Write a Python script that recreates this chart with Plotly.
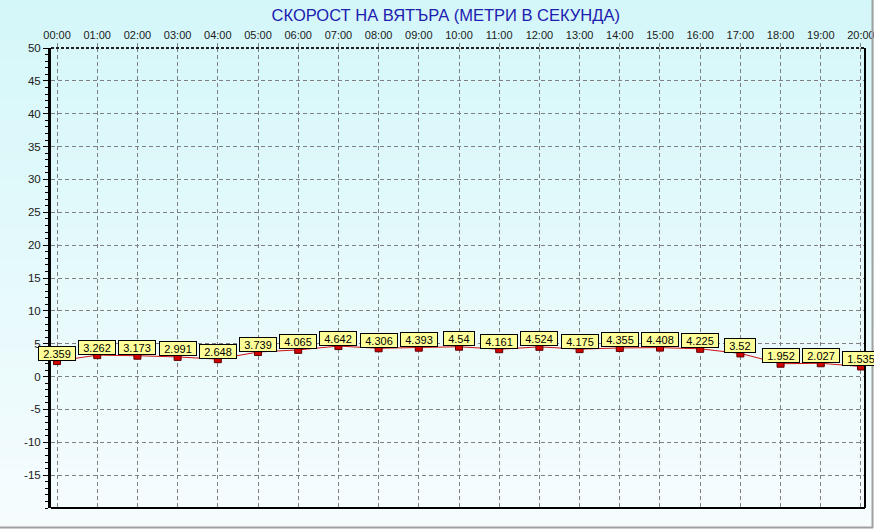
import plotly.graph_objects as go

hours = ["00:00", "01:00", "02:00", "03:00", "04:00", "05:00", "06:00", "07:00",
         "08:00", "09:00", "10:00", "11:00", "12:00", "13:00", "14:00", "15:00",
         "16:00", "17:00", "18:00", "19:00", "20:00"]
wind = [2.359, 3.262, 3.173, 2.991, 2.648, 3.739, 4.065, 4.642, 4.306, 4.393, 4.54,
        4.161, 4.524, 4.175, 4.355, 4.408, 4.225, 3.52, 1.952, 2.027, 1.535]
y_ticks = [-15, -10, -5, 0, 5, 10, 15, 20, 25, 30, 35, 40, 45, 50]
title_text = "СКОРОСТ НА ВЯТЪРА (МЕТРИ В СЕКУНДА)"

W, H = 874, 529
L, R, T, B = 51, 9, 48, 21
PW, PH = W - L - R, H - T - B

fig = go.Figure()
fig.add_trace(go.Scatter(
    x=list(range(len(hours))), y=wind, mode="lines+markers",
    line=dict(color="#d01010", width=1),
    marker=dict(symbol="square", size=7, color="#d00000",
                line=dict(color="#600000", width=1)),
    hoverinfo="skip", showlegend=False, cliponaxis=False,
))

def px_x(p):
    return (p - L) / PW

def px_y(p):
    return (H - B - p) / PH

shapes = []
# background gradient (light cyan at top to near-white at bottom)
c0 = (212, 247, 249)
c1 = (246, 252, 254)
n = 53
for i in range(n):
    t = i / (n - 1)
    col = tuple(int(round(c0[k] + (c1[k] - c0[k]) * t)) for k in range(3))
    p0 = i * H / n
    p1 = (i + 1) * H / n + 0.6
    shapes.append(dict(type="rect", xref="paper", yref="paper",
                       x0=px_x(0), x1=px_x(W), y0=px_y(p1), y1=px_y(p0),
                       line=dict(width=0), fillcolor="rgb(%d,%d,%d)" % col,
                       layer="below"))
# plot frame
shapes.append(dict(type="line", xref="paper", yref="paper", x0=0, x1=1, y0=0, y1=0,
                   line=dict(color="black", width=2), layer="above"))
shapes.append(dict(type="line", xref="paper", yref="paper", x0=1, x1=1, y0=0, y1=1,
                   line=dict(color="black", width=2), layer="above"))
shapes.append(dict(type="line", xref="paper", yref="paper", x0=0, x1=1, y0=1, y1=1,
                   line=dict(color="#202020", width=2, dash="3px,2px"), layer="above"))
# outer window frame
shapes.append(dict(type="line", xref="paper", yref="paper",
                   x0=px_x(0), x1=px_x(873), y0=px_y(527.5), y1=px_y(527.5),
                   line=dict(color="#a0a0a0", width=2), layer="above"))
shapes.append(dict(type="line", xref="paper", yref="paper",
                   x0=px_x(872.5), x1=px_x(872.5), y0=px_y(528), y1=px_y(0),
                   line=dict(color="#a0a0a0", width=2), layer="above"))

annotations = []
for i, v in enumerate(wind):
    txt = str(v)
    annotations.append(dict(
        x=i, y=v, xref="x", yref="y", text=txt, showarrow=False,
        font=dict(family="Arial, Liberation Sans", size=11, color="black"),
        bgcolor="#ffff99", bordercolor="black", borderwidth=1, borderpad=1,
        width=len(txt) * 6.2 + 3, height=11, yshift=8, xanchor="center",
        yanchor="middle",
    ))

fig.update_layout(
    width=W, height=H,
    margin=dict(l=L, r=R, t=T, b=B, pad=0, autoexpand=False),
    paper_bgcolor="#e8f9fa",
    plot_bgcolor="rgba(0,0,0,0)",
    title=dict(text=title_text, x=0.51, xref="container", xanchor="center",
               y=1 - 15 / H, yref="container", yanchor="middle",
               font=dict(family="Arial, Liberation Sans", size=16.5, color="#2020b0")),
    xaxis=dict(
        range=[-0.15, 20.1], side="top", tickmode="array",
        tickvals=list(range(len(hours))), ticktext=hours,
        showgrid=True, gridcolor="#808080", gridwidth=1, griddash="4px,3px",
        zeroline=False, showline=False, automargin=False,
        ticks="outside", ticklen=4, tickcolor="#808080",
        ticklabeloverflow="allow",
        tickfont=dict(family="Arial, Liberation Sans", size=11, color="#202020"),
        fixedrange=True,
    ),
    yaxis=dict(
        range=[-20, 50], tickmode="array", tickvals=y_ticks,
        ticktext=[str(v) for v in y_ticks], automargin=False,
        showgrid=True, gridcolor="#808080", gridwidth=1, griddash="4px,3px",
        zeroline=False, showline=True, linecolor="black", linewidth=3,
        ticks="outside", ticklen=5, tickcolor="black",
        minor=dict(dtick=1, ticks="outside", ticklen=3, tickcolor="black", showgrid=False),
        tickfont=dict(family="Arial, Liberation Sans", size=11.5, color="#202020"),
        fixedrange=True,
    ),
    shapes=shapes,
    annotations=annotations,
    showlegend=False,
)

fig.write_html(
    "out.html",
    config={"displayModeBar": False},
    post_script="document.body.style.margin='0';document.body.style.overflow='hidden';",
)
